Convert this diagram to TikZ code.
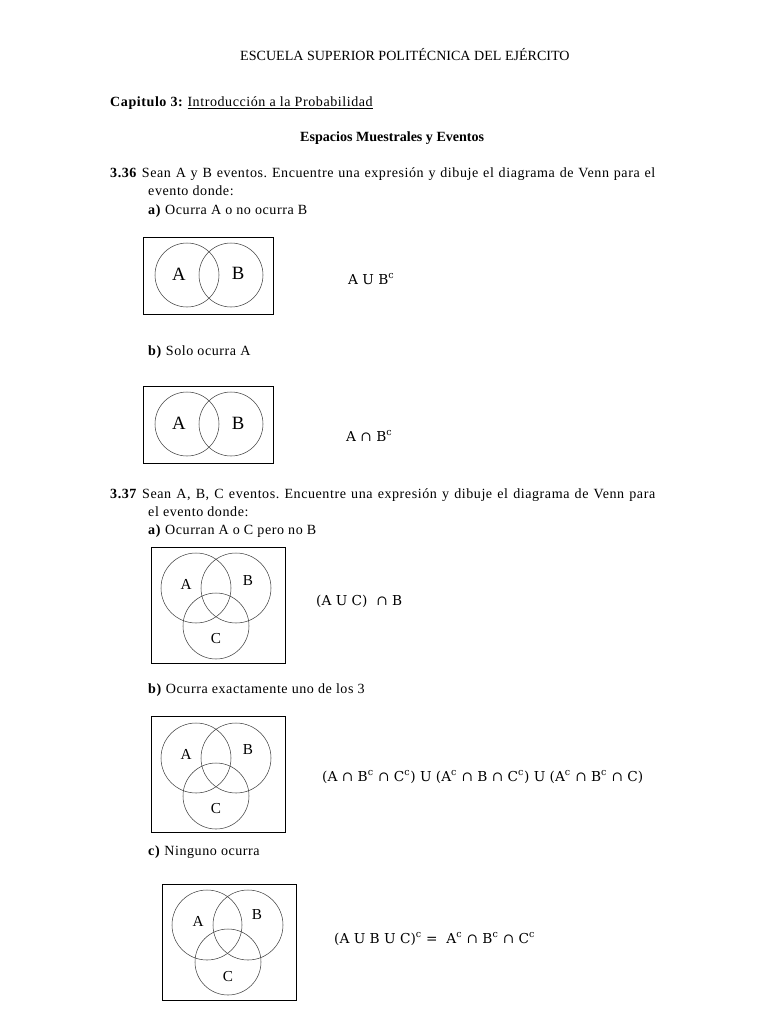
\documentclass[tikz,border=0pt]{standalone}
\usepackage{fontspec}
\setmainfont{Liberation Serif}
\newfontfamily\bodyfont{Liberation Serif}[LetterSpace=4]
\newfontfamily\exprfont{DejaVu Serif}
\usepackage{tikz}
\usetikzlibrary{positioning}
\frenchspacing

\begin{document}
\begin{tikzpicture}[
    x=0.3mm, y=-0.3mm,
    font=\fontsize{12}{14}\selectfont,
    head/.style={anchor=base west, inner sep=0pt},
    txt/.style={anchor=base west, inner sep=0pt, font=\bodyfont\fontsize{12}{14}\selectfont},
    expr/.style={anchor=base west, inner sep=0pt, font=\exprfont\fontsize{11.7}{13}\selectfont},
    frame/.style={draw=black, line width=0.7pt, minimum width=39mm, minimum height=23.1mm, inner sep=0pt},
    bigframe/.style={draw=black, line width=0.7pt, minimum width=40.2mm, minimum height=34.8mm, inner sep=0pt},
    venn/.style={circle, draw=black!75, line width=0.45pt, minimum size=19.2mm, inner sep=0pt},
    vennb/.style={circle, draw=black!75, line width=0.45pt, minimum size=21mm, inner sep=0pt},
    vennc/.style={circle, draw=black!75, line width=0.45pt, minimum size=19.8mm, inner sep=0pt},
    lbl/.style={inner sep=0pt, font=\fontsize{16}{18}\selectfont},
    lbls/.style={inner sep=0pt, font=\fontsize{13}{15}\selectfont},
]
\useasboundingbox[fill=white] (0,0) rectangle (768,1024);

% --- heading ---
\node[head] (title) at (240,60) {ESCUELA SUPERIOR POLITÉCNICA DEL EJÉRCITO};
\node[txt] (cap) at (110,106) {\textbf{Capitulo 3:} \underline{Introducción a la Probabilidad}};
\node[head] (sec) at (300,141) {\textbf{Espacios Muestrales y Eventos}};

% --- 3.36 ---
\node[txt] (q36) at (110,177) {\makebox[163.5mm][s]{\textbf{3.36} Sean A y B eventos. Encuentre una expresión y dibuje el diagrama de Venn para el}};
\node[txt] (q36b) at (148,195) {evento donde:};
\node[txt] (q36a) at (148,214) {\textbf{a)} Ocurra A o no ocurra B};

\node[frame] (f1) at (208,275.5) {};
\node[venn] (a1) at (187,275) {};
\node[venn] (b1) at (231,275) {};
\node[lbl] at (179,274) {A};
\node[lbl] at (238,273) {B};
\node[expr] (e1) at (348,284) {A U B\textsuperscript{c}};

\node[txt] (q36c) at (148,355) {\textbf{b)} Solo ocurra A};

\node[frame] (f2) at (208,425) {};
\node[venn] (a2) at (187,424) {};
\node[venn] (b2) at (231,424) {};
\node[lbl] at (179,423) {A};
\node[lbl] at (238,423) {B};
\node[expr] (e2) at (346,441) {A ∩ B\textsuperscript{c}};

% --- 3.37 ---
\node[txt] (q37) at (110,498) {\makebox[163.5mm][s]{\textbf{3.37} Sean A, B, C eventos. Encuentre una expresión y dibuje el diagrama de Venn para}};
\node[txt] (q37b) at (148,516) {el evento donde:};
\node[txt] (q37a) at (148,534) {\textbf{a)} Ocurran A o C pero no B};

\node[bigframe] (f3) at (218,605) {};
\node[vennb] (a3) at (196,588) {};
\node[vennb] (b3) at (236,588) {};
\node[vennc] (c3) at (216,626) {};
\node[lbls] at (186,584) {A};
\node[lbls] at (248,581) {B};
\node[lbls] at (216,639) {C};
\node[expr] (e3) at (316,605) {(A U C) \ ∩ B};

\node[txt] (q37c) at (148,693) {\textbf{b)} Ocurra exactamente uno de los 3};

\node[bigframe] (f4) at (218,774.5) {};
\node[vennb] (a4) at (196,758) {};
\node[vennb] (b4) at (236,758) {};
\node[vennc] (c4) at (216,796) {};
\node[lbls] at (186,754) {A};
\node[lbls] at (248,750) {B};
\node[lbls] at (216,809) {C};
\node[expr] (e4) at (322,781) {(A ∩ B\textsuperscript{c} ∩ C\textsuperscript{c}) U (A\textsuperscript{c} ∩ B ∩ C\textsuperscript{c}) U (A\textsuperscript{c} ∩ B\textsuperscript{c} ∩ C)};

\node[txt] (q37d) at (148,855) {\textbf{c)} Ninguno ocurra};

\node[bigframe] (f5) at (229.5,942.5) {};
\node[vennb] (a5) at (207,925) {};
\node[vennb] (b5) at (248,925) {};
\node[vennc] (c5) at (228,962) {};
\node[lbls] at (198,921) {A};
\node[lbls] at (257,915) {B};
\node[lbls] at (228,977) {C};
\node[expr] (e5) at (334,943) {(A U B U C)\textsuperscript{c} = \ A\textsuperscript{c} ∩ B\textsuperscript{c} ∩ C\textsuperscript{c}};

\end{tikzpicture}
\end{document}
